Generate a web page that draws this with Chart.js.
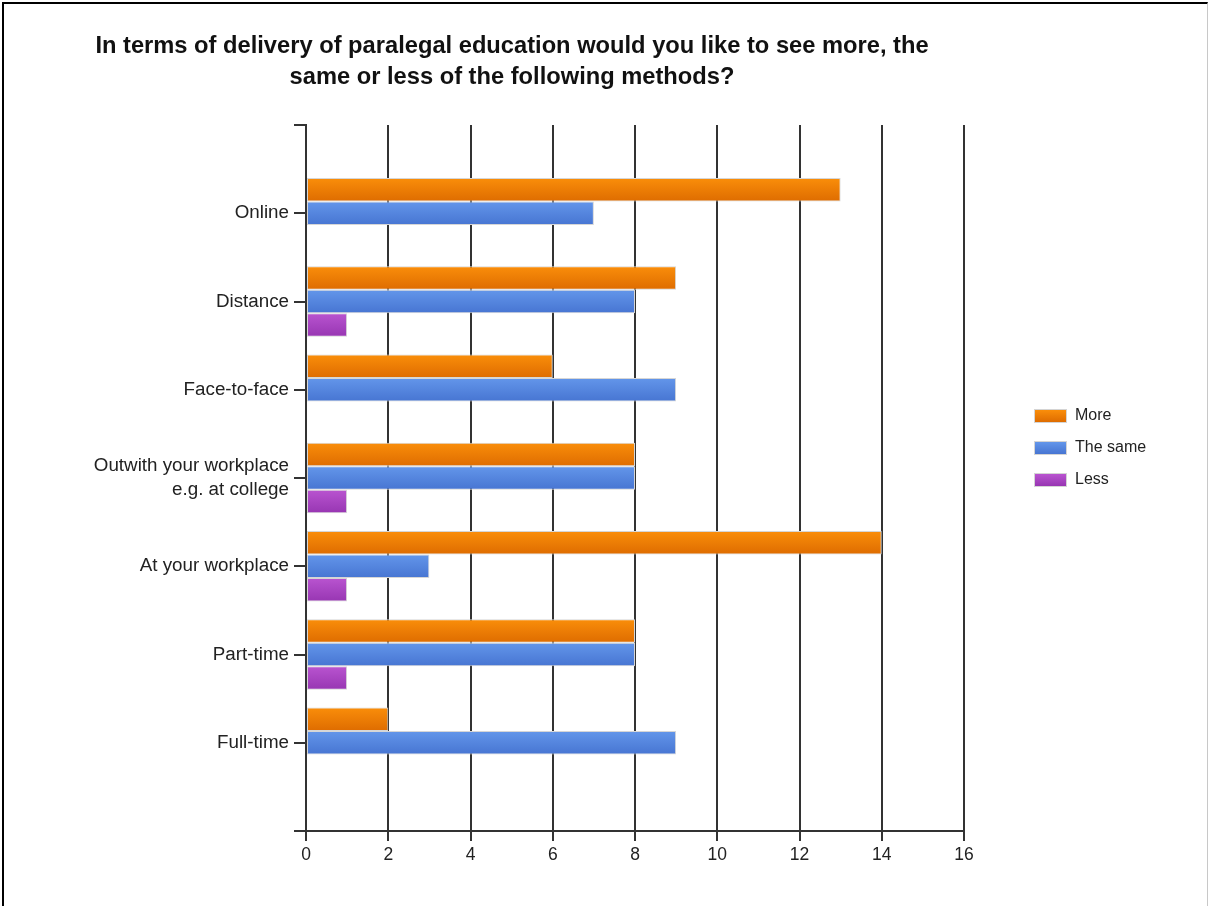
<!DOCTYPE html>
<html>
<head>
<meta charset="utf-8">
<script src="https://cdn.jsdelivr.net/npm/chart.js@4.4.0/dist/chart.umd.min.js"></script>
<style>
  html, body { margin: 0; padding: 0; background: #fff; }
  #wrap { position: relative; width: 1208px; height: 906px; overflow: hidden; font-family: "Liberation Sans", Arial, sans-serif; }
  #frame { position: absolute; left: 2px; top: 2px; width: 1203px; height: 920px; border-left: 2px solid #000; border-top: 2px solid #000; border-right: 1px solid #c8c8c8; }
  #title { position: absolute; left: 0; top: 30px; width: 1024px; text-align: center; font-weight: bold; font-size: 23.7px; line-height: 31px; color: #111; }
  #legend { position: absolute; left: 1034px; top: 406px; }
  .lg { height: 32px; display: flex; align-items: flex-start; font-size: 16px; color: #222; }
  .lg span.sw { width: 31px; height: 12px; border: 1px solid #d4d4d4; margin-top: 3px; margin-right: 8px; }
  canvas { position: absolute; left: 0; top: 0; }
</style>
</head>
<body>
<div id="wrap">
  <div id="frame"></div>
  <canvas id="c" width="1208" height="906"></canvas>
  <div id="title">In terms of delivery of paralegal education would you like to see more, the<br>same or less of the following methods?</div>
  <div id="legend"></div>
</div>
<script>
// 数据：类别与三个系列（首尾空类别用于留出上下空隙）
const categories = ['', 'Online', 'Distance', 'Face-to-face', ['Outwith your workplace', 'e.g. at college'], 'At your workplace', 'Part-time', 'Full-time', ''];
const seriesNames = ['More', 'The same', 'Less'];
const moreVals = [null, 13, 9, 6, 8, 14, 8, 2, null];
const sameVals = [null, 7, 8, 9, 8, 3, 8, 9, null];
const lessVals = [null, 0, 1, 0, 1, 1, 1, 0, null];
const xTicks = [0, 2, 4, 6, 8, 10, 12, 14, 16];

const COLORS = [
  ['#fa8e0a', '#de6c00', '#f07e00'],
  ['#6396ea', '#4775d2', '#5585dc'],
  ['#b954d0', '#9736b2', '#a745c0']
];
const CAT_PCT = 0.8;

// 每根条形的竖向渐变（只影响填充色）
function barGradient(ctx) {
  const chart = ctx.chart;
  const y = chart.scales.y;
  const ds = ctx.datasetIndex;
  if (!y || ctx.dataIndex === undefined) return COLORS[ds][2];
  const slot = Math.abs(y.getPixelForValue(1) - y.getPixelForValue(0));
  const group = slot * CAT_PCT;
  const bar = group / seriesNames.length;
  const top = y.getPixelForValue(ctx.dataIndex) - group / 2 + ds * bar;
  if (!isFinite(top) || !isFinite(bar) || bar <= 0) return COLORS[ds][2];
  const g = chart.ctx.createLinearGradient(0, top, 0, top + bar);
  g.addColorStop(0, COLORS[ds][0]);
  g.addColorStop(1, COLORS[ds][1]);
  return g;
}

const seriesData = [moreVals, sameVals, lessVals];

// HTML 图例
document.getElementById('legend').innerHTML = seriesNames.map((n, i) =>
  `<div class="lg"><span class="sw" style="background:linear-gradient(${COLORS[i][0]},${COLORS[i][1]})"></span>${n}</div>`
).join('');

new Chart(document.getElementById('c').getContext('2d'), {
  type: 'bar',
  data: {
    labels: categories,
    datasets: seriesNames.map((n, i) => ({
      label: n,
      data: seriesData[i],
      backgroundColor: barGradient,
      borderColor: '#d6d6d6',
      borderWidth: 1,
      borderSkipped: false,
      barPercentage: 1,
      categoryPercentage: CAT_PCT
    }))
  },
  options: {
    indexAxis: 'y',
    responsive: false,
    animation: false,
    layout: { padding: { top: 125, right: 244, left: 0, bottom: 0 } },
    plugins: {
      legend: { display: false },
      title: { display: false },
      tooltip: { enabled: false }
    },
    scales: {
      y: {
        type: 'category',
        offset: false,
        afterFit: (s) => { s.width = 306; },
        grid: { offset: false, drawOnChartArea: false, drawTicks: true, tickLength: 12, color: '#333', lineWidth: 2 },
        border: { display: true, color: '#333', width: 2 },
        ticks: {
          autoSkip: false,
          padding: 5,
          color: '#222',
          font: { family: '"Liberation Sans", Arial, sans-serif', size: 18.8, lineHeight: 1.25 }
        }
      },
      x: {
        type: 'linear',
        min: 0,
        max: 16,
        afterFit: (s) => { s.height = 75; },
        afterBuildTicks: (s) => { s.ticks = xTicks.map(v => ({ value: v })); },
        grid: { drawOnChartArea: true, drawTicks: true, tickLength: 10, color: '#333', lineWidth: 2 },
        border: { display: true, color: '#333', width: 2 },
        ticks: {
          padding: 4,
          color: '#222',
          font: { family: '"Liberation Sans", Arial, sans-serif', size: 17.5 }
        }
      }
    }
  }
});
</script>
</body>
</html>
